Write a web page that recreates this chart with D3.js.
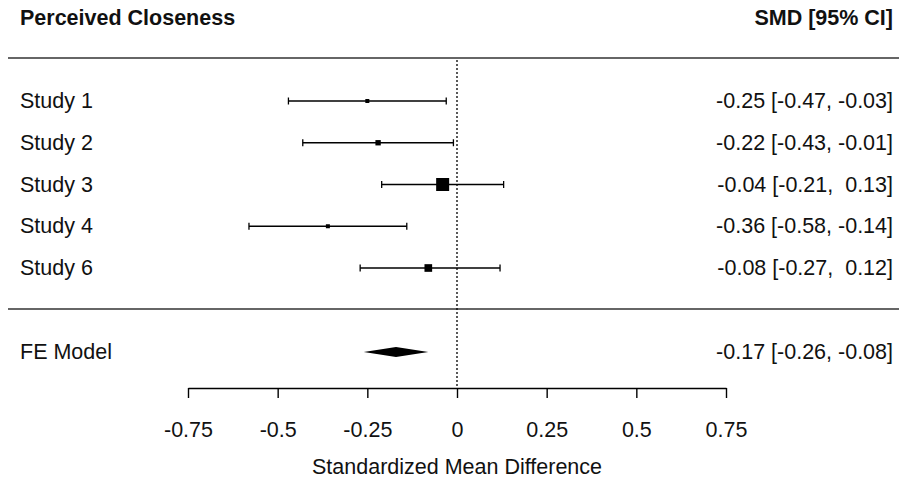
<!DOCTYPE html>
<html>
<head>
<meta charset="utf-8">
<script src="https://cdn.jsdelivr.net/npm/d3@7"></script>
<style>
  body { margin: 0; background: #fff; }
  svg { display: block; font-family: Arial, "Liberation Sans", sans-serif; }
  text { fill: #111; }
</style>
</head>
<body>
<svg id="chart" width="899" height="481"></svg>
<script>
// study rows
var studies = ['Study 1', 'Study 2', 'Study 3', 'Study 4', 'Study 6'];
var estimates = [-0.25, -0.22, -0.04, -0.36, -0.08];
var lower = [-0.47, -0.43, -0.21, -0.58, -0.27];
var upper = [-0.03, -0.01, 0.13, -0.14, 0.12];
var weights = [16.5, 18.2, 27.8, 16.5, 21.1]; // inverse variance %

// pooled model
var modelLabel = 'FE Model';
var modelEst = -0.17, modelLo = -0.26, modelHi = -0.08;

var ticks = [-0.75, -0.5, -0.25, 0, 0.25, 0.5, 0.75];
var tickLabels = ['-0.75', '-0.5', '-0.25', '0', '0.25', '0.5', '0.75'];

var svg = d3.select('#chart');
var width = 899;
var fs = '21.5px';

var x = d3.scaleLinear().domain([-0.75, 0.75]).range([188, 726]);
// row positions (study rows then the model row)
var y = d3.scaleLinear().domain([0, 4]).range([101, 268]);
var modelY = 352;
var sizeScale = d3.scaleLinear().domain(d3.extent(weights)).range([4, 13]);

function fmt(v) {
    var s = v.toFixed(2);
    return v >= 0 ? ' ' + s : s;
}
function ciText(e, l, u) {
    return fmt(e) + ' [' + fmt(l) + ', ' + fmt(u) + ']';
}

// headers
svg.append('text')
    .attr('x', 20).attr('y', 18)
    .attr('dominant-baseline', 'central')
    .style('font-weight', 'bold').style('font-size', fs)
    .text('Perceived Closeness');
svg.append('text')
    .attr('x', 893).attr('y', 18)
    .attr('text-anchor', 'end')
    .attr('dominant-baseline', 'central')
    .style('font-weight', 'bold').style('font-size', fs)
    .text('SMD [95% CI]');

// separators
[58, 309].forEach(function(yy) {
    svg.append('line')
        .attr('x1', 8).attr('x2', width)
        .attr('y1', yy).attr('y2', yy)
        .attr('stroke', '#333').attr('stroke-width', 1.4);
});

// reference line at 0
svg.append('line')
    .attr('x1', x(0)).attr('x2', x(0))
    .attr('y1', 60).attr('y2', 388)
    .attr('stroke', '#000').attr('stroke-width', 1.3)
    .attr('stroke-dasharray', '2,2');

var rows = svg.selectAll('.row')
    .data(studies)
    .enter()
    .append('g')
    .attr('class', 'row')
    .attr('transform', function(d, i) { return 'translate(0,' + y(i) + ')'; });

rows.append('text')
    .attr('x', 20)
    .attr('dominant-baseline', 'central')
    .style('font-size', fs)
    .text(function(d) { return d; });

rows.append('line')
    .attr('x1', function(d, i) { return x(lower[i]); })
    .attr('x2', function(d, i) { return x(upper[i]); })
    .attr('stroke', '#000').attr('stroke-width', 1.3);

rows.selectAll('.cap')
    .data(function(d, i) { return [lower[i], upper[i]]; })
    .enter()
    .append('line')
    .attr('class', 'cap')
    .attr('x1', function(d) { return x(d); })
    .attr('x2', function(d) { return x(d); })
    .attr('y1', -3.5).attr('y2', 3.5)
    .attr('stroke', '#000').attr('stroke-width', 1.3);

rows.append('rect')
    .attr('x', function(d, i) { return x(estimates[i]) - sizeScale(weights[i]) / 2; })
    .attr('y', function(d, i) { return -sizeScale(weights[i]) / 2; })
    .attr('width', function(d, i) { return sizeScale(weights[i]); })
    .attr('height', function(d, i) { return sizeScale(weights[i]); })
    .attr('fill', '#000');

rows.append('text')
    .attr('x', 893)
    .attr('text-anchor', 'end')
    .attr('dominant-baseline', 'central')
    .style('font-size', fs)
    .style('white-space', 'pre')
    .attr('xml:space', 'preserve')
    .text(function(d, i) { return ciText(estimates[i], lower[i], upper[i]); });

// model row
var m = svg.append('g').attr('transform', 'translate(0,' + modelY + ')');
m.append('text')
    .attr('x', 20)
    .attr('dominant-baseline', 'central')
    .style('font-size', fs)
    .text(modelLabel);
m.append('polygon')
    .attr('points', [
        [x(modelLo), 0], [x(modelEst), -5], [x(modelHi), 0], [x(modelEst), 5]
    ].join(' '))
    .attr('fill', '#000');
m.append('text')
    .attr('x', 893)
    .attr('text-anchor', 'end')
    .attr('dominant-baseline', 'central')
    .style('font-size', fs)
    .style('white-space', 'pre')
    .attr('xml:space', 'preserve')
    .text(ciText(modelEst, modelLo, modelHi));

// x axis
var axis = d3.axisBottom(x)
    .tickValues(ticks)
    .tickFormat(function(d, i) { return tickLabels[i]; })
    .tickSize(10)
    .tickPadding(24)
    .tickSizeOuter(0);
var ax = svg.append('g')
    .attr('transform', 'translate(0,388)')
    .call(axis);
ax.select('.domain').attr('stroke', '#000').attr('stroke-width', 1.4);
ax.selectAll('.tick line').attr('stroke', '#000').attr('stroke-width', 1.4);
ax.selectAll('.tick text')
    .style('font-size', fs)
    .style('font-family', 'Arial, "Liberation Sans", sans-serif')
    .attr('fill', '#111');

svg.append('text')
    .attr('x', x(0)).attr('y', 467)
    .attr('text-anchor', 'middle')
    .attr('dominant-baseline', 'central')
    .style('font-size', fs)
    .text('Standardized Mean Difference');
</script>
</body>
</html>
